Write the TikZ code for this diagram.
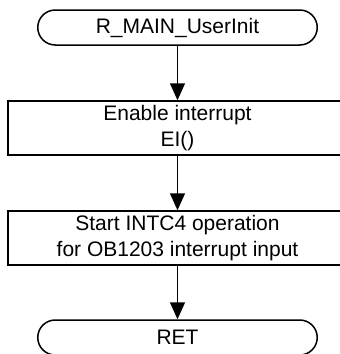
\documentclass[tikz,border=0pt]{standalone}
\usepackage{fontspec}
\setmainfont{Liberation Sans}
\usetikzlibrary{arrows.meta}
\begin{document}
\begin{tikzpicture}[x=1pt,y=1pt,
  every node/.style={font=\fontsize{21}{26}\selectfont, line width=1.5pt, inner sep=0pt, align=center},
  term/.style={draw, rounded corners=17.5pt, minimum width=279.5pt, minimum height=35pt},
  proc/.style={draw, minimum width=339pt, minimum height=54pt},
  flow/.style={line width=1.5pt, -{Triangle[length=17pt,width=15pt]}}]
\useasboundingbox (0,0) rectangle (340,-354);
\clip (0,0) rectangle (340,-354);
\node[term] (start) at (177.5,-27.5) {R\_MAIN\_UserInit};
\node[proc] (ei) at (177.5,-128) {Enable interrupt\\EI()};
\node[proc] (intc) at (177.5,-238) {Start INTC4 operation\\for OB1203 interrupt input};
\node[term] (ret) at (177.5,-337.5) {RET};
\draw[flow] (start) -- (ei);
\draw[flow] (ei) -- (intc);
\draw[flow] (intc) -- (ret);
\end{tikzpicture}
\end{document}
